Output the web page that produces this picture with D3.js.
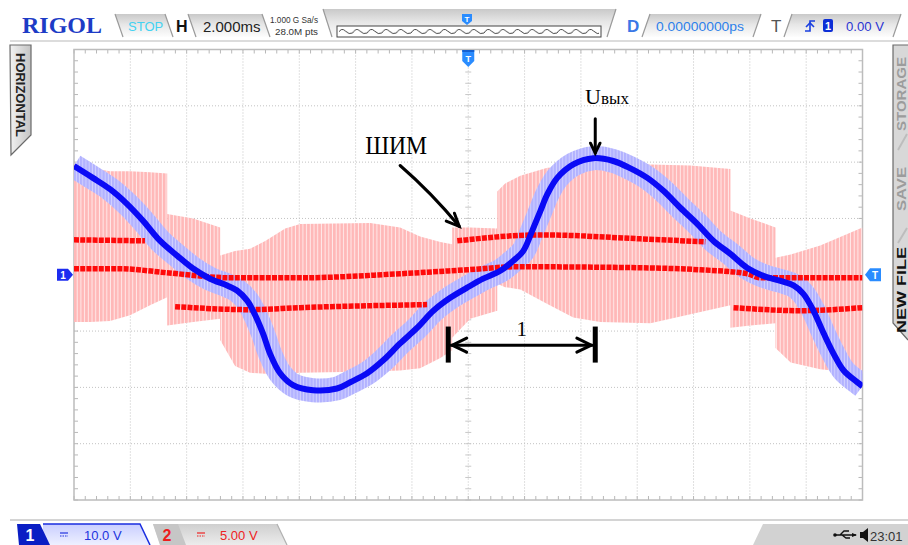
<!DOCTYPE html>
<html><head><meta charset="utf-8">
<script src="https://cdn.jsdelivr.net/npm/d3@7"></script>
<style>
html,body{margin:0;padding:0;background:#fff;overflow:hidden}
svg{display:block}
</style></head><body>
<svg id="c" width="908" height="545" font-family="'Liberation Sans',Arial,sans-serif"></svg>
<script>
// ---------------- DATA ----------------
// Channel 1 (blue) output voltage Uвых : time (ms) / volts (10 V/div)
const ch1Time = [-14.00,-13.33,-12.72,-12.12,-11.55,-10.94,-10.34,-9.77,-9.17,-8.56,-8.21,-7.85,-7.64,-7.29,-7.04,-6.68,-6.22,-5.51,-4.66,-4.19,-3.59,-3.02,-2.42,-1.81,-1.24,-0.64,-0.04,0.53,1.14,1.60,1.95,2.27,2.56,2.81,3.16,3.73,4.44,5.15,5.76,6.36,6.93,7.53,8.14,8.71,9.31,9.91,10.48,11.09,11.55,11.90,12.26,12.62,12.97,13.33,13.82,14.00];
const ch1Volt = [19.3,17.2,15.2,12.6,9.6,6.0,3.4,1.1,-0.7,-1.9,-2.8,-4.6,-6.4,-10.4,-14.0,-17.5,-19.6,-20.5,-20.2,-19.1,-17.5,-15.2,-12.2,-9.4,-6.4,-4.1,-2.3,-0.7,0.7,2.5,4.2,7.8,11.3,14.3,17.2,19.6,20.7,20.2,18.9,17.2,14.9,11.9,9.0,6.0,3.7,1.2,-0.2,-1.1,-1.9,-3.4,-6.4,-10.4,-14.0,-17.0,-19.1,-19.8];

// Channel 2 (red) PWM levels : time (ms) / volts (5 V/div)
const ch2MidTime = [-14,-12.37,-10.70,-8.46,-5.97,-2.42,-0.04,1.74,6.11,8.24,9.91,10.38,14];
const ch2MidVolt = [0.53,0.53,0.18,-0.27,-0.27,0.09,0.44,0.71,0.62,0.44,0.09,-0.27,-0.27];
const ch2UpATime = [-14,-11.48];           const ch2UpAVolt = [3.10,3.01];
const ch2UpBTime = [-0.39,2.56,6.11,8.42]; const ch2UpBVolt = [3.01,3.54,3.19,2.92];
const ch2LoATime = [-10.41,-7.75,-5.97,-1.46]; const ch2LoAVolt = [-2.83,-3.10,-2.92,-2.65];
const ch2LoBTime = [9.42,11.80,14];        const ch2LoBVolt = [-2.92,-3.19,-2.92];

// PWM switching envelope segments: [time ms, top V, bottom V]
const pwmA = [[-14.00,9.8,-4.2],[-13.43,9.5,-4.2],[-12.72,9.2,-4.1],[-12.01,9.2,-3.6],[-11.30,9.1,-2.7],[-10.69,9.0,-2.0]];
const pwmB = [[-10.69,5.4,-4.5],[-9.77,5.0,-4.2],[-8.81,4.2,-3.9]];
const pwmC = [[-8.81,1.7,-5.8],[-8.28,2.1,-8.1],[-7.75,2.3,-8.7],[-7.21,3.0,-8.8],[-6.50,4.1,-8.8],[-5.97,4.5,-8.7],[-3.48,4.6,-8.6],[-2.42,4.2,-8.5],[-1.71,3.4,-8.3],[-0.99,2.9,-7.4],[-0.57,2.7,-6.7]];
const pwmD = [[-0.57,4.2,-5.6],[0.07,4.2,-3.9],[1.03,4.1,-3.2]];
const pwmE = [[1.03,7.4,-0.8],[1.31,8.1,-1.1],[1.85,8.8,-1.3],[2.81,9.5,-2.6],[3.73,9.6,-3.8],[4.69,9.6,-4.2],[6.47,9.8,-4.3],[7.89,9.7,-3.5],[9.31,9.4,-2.7]];
const pwmF = [[9.31,5.7,-4.7],[10.02,5.0,-4.5],[10.91,4.2,-4.3]];
const pwmG = [[10.91,1.5,-6.5],[11.45,1.8,-7.8],[12.50,2.6,-8.4],[14.00,4.2,-8.8]];

// Axes / grid
const timeDomain = [-14, 14];      // 2 ms/div, 14 div
const ch1Domain = [-40, 40];       // 10 V/div, 8 div
const ch2Domain = [-20, 20];       // 5 V/div
const timeGrid = [-12,-10,-8,-6,-4,-2,0,2,4,6,8,10,12];
const voltGrid = [-30,-20,-10,0,10,20,30];

// Texts
const headerTexts = {brand:"RIGOL", run:"STOP", h:"H", timebase:"2.000ms", rate:"1.000 G Sa/s", depth:"28.0M pts", d:"D", delay:"0.00000000ps", t:"T", trig:"0.00 V"};
const footerTexts = {ch1:"1", ch1Scale:"10.0 V", ch2:"2", ch2Scale:"5.00 V", clock:"23:01"};
const sideLeft = ["HORIZONTAL"];
const sideRight = ["STORAGE","SAVE","NEW FILE"];
// Annotations (time ms, ch1 volts)
const annPWM = {label:"ШИМ", t:-3.66, v:21.5, from:[-2.42,19.4], to:[-0.32,8.6]};
const annOut = {main:"U", sub:"вых", t:4.15, v:30.4, from:[4.51,27.7], to:[4.51,21.6]};
const annPeriod = {label:"1", t0:-0.71, t1:4.51, v:-12.5, vTop:-9.2, vBot:-15.6, labelT:1.9, labelV:-10.9};

// ---------------- DRAW ----------------
const svg = d3.select("#c");
const P = {l:74, r:862.5, t:49.5, b:500};
const x = d3.scaleLinear().domain(timeDomain).range([P.l, P.r]);
const y1 = d3.scaleLinear().domain(ch1Domain).range([P.b, P.t]);
const y2 = d3.scaleLinear().domain(ch2Domain).range([P.b, P.t]);
const serif = "'Liberation Serif','Times New Roman',serif";

const defs = svg.append("defs");
defs.append("clipPath").attr("id","plotClip").append("rect")
  .attr("x",P.l).attr("y",P.t).attr("width",P.r-P.l).attr("height",P.b-P.t);
const pp = defs.append("pattern").attr("id","pwmStripe").attr("patternUnits","userSpaceOnUse").attr("width",3.7).attr("height",8);
pp.append("rect").attr("width",3.7).attr("height",8).attr("fill","#ffe9e9");
pp.append("rect").attr("width",2.7).attr("height",8).attr("fill","#ffb8b8");
const bp = defs.append("pattern").attr("id","blueStripe").attr("patternUnits","userSpaceOnUse").attr("width",3.2).attr("height",8);
bp.append("rect").attr("width",3.2).attr("height",8).attr("fill","#d2d2ff");
bp.append("rect").attr("width",2.3).attr("height",8).attr("fill","#b2b2ff");
function grad(id, stops){
  const g = defs.append("linearGradient").attr("id",id).attr("x1",0).attr("y1",0).attr("x2",0).attr("y2",1);
  stops.forEach(s=>g.append("stop").attr("offset",s[0]).attr("stop-color",s[1]));
}
grad("tabGrad",[[0,"#c9c9c9"],[0.45,"#e6e6e6"],[1,"#fdfdfd"]]);
grad("ch1Grad",[[0,"#c9ceff"],[1,"#eef0ff"]]);
grad("ch2Grad",[[0,"#cfcfcf"],[1,"#ececec"]]);
const hg = defs.append("linearGradient").attr("id","sideGrad").attr("x1",0).attr("y1",0).attr("x2",1).attr("y2",0);
hg.append("stop").attr("offset",0).attr("stop-color","#f2f2f2");
hg.append("stop").attr("offset",1).attr("stop-color","#c4c4c4");

// ---- grid ----
const grid = svg.append("g");
grid.selectAll(".vg").data(timeGrid).join("line")
  .attr("x1",d=>x(d)).attr("x2",d=>x(d)).attr("y1",P.t).attr("y2",P.b)
  .attr("stroke","#c2c2c2").attr("stroke-width",1).attr("stroke-dasharray","1,2");
grid.selectAll(".hg").data(voltGrid).join("line")
  .attr("y1",d=>y1(d)).attr("y2",d=>y1(d)).attr("x1",P.l).attr("x2",P.r)
  .attr("stroke","#c2c2c2").attr("stroke-width",1).attr("stroke-dasharray","1,2");
const minorT = d3.range(-14, 14.001, 0.4);
const minorV = d3.range(-40, 40.001, 2);
grid.selectAll(".mt").data(minorT).join("line")
  .attr("x1",d=>x(d)).attr("x2",d=>x(d)).attr("y1",P.t).attr("y2",P.t+4).attr("stroke","#b8b8b8");
grid.selectAll(".mb").data(minorT).join("line")
  .attr("x1",d=>x(d)).attr("x2",d=>x(d)).attr("y1",P.b-4).attr("y2",P.b).attr("stroke","#b8b8b8");
grid.selectAll(".mc").data(minorT).join("line")
  .attr("x1",d=>x(d)).attr("x2",d=>x(d)).attr("y1",y1(0)-3).attr("y2",y1(0)+3).attr("stroke","#c8c8c8");
grid.selectAll(".ml").data(minorV).join("line")
  .attr("y1",d=>y1(d)).attr("y2",d=>y1(d)).attr("x1",P.l).attr("x2",P.l+4).attr("stroke","#b8b8b8");
grid.selectAll(".mr").data(minorV).join("line")
  .attr("y1",d=>y1(d)).attr("y2",d=>y1(d)).attr("x1",P.r-4).attr("x2",P.r).attr("stroke","#b8b8b8");
grid.selectAll(".mv").data(minorV).join("line")
  .attr("y1",d=>y1(d)).attr("y2",d=>y1(d)).attr("x1",x(0)-3).attr("x2",x(0)+3).attr("stroke","#c8c8c8");
grid.append("rect").attr("x",P.l).attr("y",P.t).attr("width",P.r-P.l).attr("height",P.b-P.t)
  .attr("fill","none").attr("stroke","#bcbcbc").attr("stroke-width",1.5);

// ---- traces ----
const traces = svg.append("g").attr("clip-path","url(#plotClip)");
const area = d3.area().x(d=>x(d[0])).y0(d=>y2(d[2])).y1(d=>y2(d[1]));
[pwmA,pwmB,pwmC,pwmD,pwmE,pwmF,pwmG].forEach(seg=>{
  traces.append("path").datum(seg).attr("d",area).attr("fill","url(#pwmStripe)");
});
const ch1 = ch1Time.map((t,i)=>[t,ch1Volt[i]]);
const line1 = d3.line().x(d=>x(d[0])).y(d=>y1(d[1])).curve(d3.curveCatmullRom.alpha(0.5));
traces.append("path").datum(ch1).attr("d",line1).attr("fill","none")
  .attr("stroke","url(#blueStripe)").attr("stroke-width",24).attr("stroke-linejoin","round");
const line2 = d3.line().x(d=>x(d[0])).y(d=>y2(d[1])).curve(d3.curveMonotoneX);
[[ch2MidTime,ch2MidVolt],[ch2UpATime,ch2UpAVolt],[ch2UpBTime,ch2UpBVolt],[ch2LoATime,ch2LoAVolt],[ch2LoBTime,ch2LoBVolt]]
 .forEach(([ts,vs])=>{
  traces.append("path").datum(ts.map((t,i)=>[t,vs[i]])).attr("d",line2)
   .attr("fill","none").attr("stroke","#ff0a0a").attr("stroke-width",5.5).attr("stroke-dasharray","5,1.2");
 });
traces.append("path").datum(ch1).attr("d",line1).attr("fill","none")
  .attr("stroke","#0a0af5").attr("stroke-width",6).attr("stroke-linejoin","round");

// ---- annotations ----
const ann = svg.append("g").attr("stroke","#000").attr("fill","none").attr("stroke-linecap","round");
function head(xp,yp,ang,len,spr){
  const a1 = ang+Math.PI-spr, a2 = ang+Math.PI+spr;
  ann.append("path").attr("d",`M${xp+len*Math.cos(a1)},${yp+len*Math.sin(a1)} L${xp},${yp} L${xp+len*Math.cos(a2)},${yp+len*Math.sin(a2)}`)
   .attr("stroke-width",3).attr("stroke-linejoin","miter");
}
{
  const x0=x(annPWM.from[0]), yA=y1(annPWM.from[1]), x1=x(annPWM.to[0]), yB=y1(annPWM.to[1]);
  ann.append("path").attr("d",`M${x0},${yA} Q${(x0+x1)/2+2},${(yA+yB)/2-3} ${x1},${yB}`).attr("stroke-width",3);
  head(x1,yB,Math.atan2(yB-yA,x1-x0),14,0.42);
}
{
  const xa=x(annOut.from[0]), yA=y1(annOut.from[1]), yB=y1(annOut.to[1]);
  ann.append("line").attr("x1",xa).attr("x2",xa).attr("y1",yA).attr("y2",yB).attr("stroke-width",3);
  head(xa,yB,Math.PI/2,11,0.45);
}
{
  const xa=x(annPeriod.t0), xb=x(annPeriod.t1), ym=y1(annPeriod.v);
  [xa,xb].forEach(xx=>ann.append("line").attr("x1",xx).attr("x2",xx)
     .attr("y1",y1(annPeriod.vTop)).attr("y2",y1(annPeriod.vBot)).attr("stroke-width",5).attr("stroke-linecap","butt"));
  ann.append("line").attr("x1",xa+3).attr("x2",xb-3).attr("y1",ym).attr("y2",ym).attr("stroke-width",3);
  head(xa+4,ym,Math.PI,16,0.45);
  head(xb-4,ym,0,16,0.45);
}
svg.append("text").attr("x",x(annPWM.t)).attr("y",y1(annPWM.v)).text(annPWM.label)
  .style("font-family",serif).attr("font-size",25).attr("fill","#000").attr("textLength",62).attr("lengthAdjust","spacingAndGlyphs");
const ut = svg.append("text").attr("x",x(annOut.t)).attr("y",y1(annOut.v)).style("font-family",serif).attr("fill","#000");
ut.append("tspan").attr("font-size",22).text(annOut.main);
ut.append("tspan").attr("font-size",17).text(annOut.sub);
svg.append("text").attr("x",x(annPeriod.labelT)).attr("y",y1(annPeriod.labelV)).attr("text-anchor","middle")
  .style("font-family",serif).attr("font-size",21).attr("fill","#000").text(annPeriod.label);

// ---- markers ----
const yc = y1(0);
svg.append("path").attr("d",`M57,${yc-6} L68,${yc-6} L73,${yc} L68,${yc+6} L57,${yc+6} Z`).attr("fill","#1c2cf0");
svg.append("text").attr("x",63).attr("y",yc+4).attr("text-anchor","middle").attr("font-size",10).attr("font-weight","bold").attr("fill","#fff").text("1");
svg.append("path").attr("d",`M865,${yc} L870,${yc-6.5} L881,${yc-6.5} L881,${yc+6.5} L870,${yc+6.5} Z`).attr("fill","#2a8cff");
svg.append("text").attr("x",875).attr("y",yc+4).attr("text-anchor","middle").attr("font-size",10).attr("font-weight","bold").attr("fill","#fff").text("T");
const xc = x(0);
svg.append("path").attr("d",`M${xc-6},50 L${xc+6},50 L${xc+6},61 L${xc},67 L${xc-6},61 Z`).attr("fill","#2a8cff");
svg.append("rect").attr("x",xc-6).attr("y",50).attr("width",12).attr("height",2).attr("fill","#1560d0");
svg.append("text").attr("x",xc).attr("y",62).attr("text-anchor","middle").attr("font-size",9).attr("font-weight","bold").attr("fill","#fff").text("T");

// ---- header ----
svg.append("line").attr("x1",10).attr("x2",908).attr("y1",41).attr("y2",41).attr("stroke","#dcdcdc").attr("stroke-width",2);
svg.append("text").attr("x",22).attr("y",33).text(headerTexts.brand).style("font-family",serif)
  .attr("font-weight","bold").attr("font-size",23).attr("fill","#1d3cc6").attr("textLength",80).attr("lengthAdjust","spacingAndGlyphs");
function tab(pts, slantStroke){
  svg.append("path").attr("d","M"+pts.map(p=>p.join(",")).join(" L")+" Z").attr("fill","url(#tabGrad)");
  if(slantStroke) slantStroke.forEach(s=>svg.append("line").attr("x1",s[0]).attr("y1",s[1]).attr("x2",s[2]).attr("y2",s[3]).attr("stroke","#9a9a9a").attr("stroke-width",1.2));
}
tab([[115,14],[165,14],[173,37],[123,37]],[[115,14,123,37],[165,14,173,37]]);
svg.append("text").attr("x",128).attr("y",31).attr("font-size",13).attr("fill","#42d2f2").text(headerTexts.run);
svg.append("text").attr("x",176).attr("y",32).attr("font-size",16).attr("font-weight","bold").attr("fill","#111").text(headerTexts.h);
tab([[188,14],[262,14],[270,37],[196,37]],[[188,14,196,37],[262,14,270,37]]);
svg.append("text").attr("x",203).attr("y",32).attr("font-size",15).attr("fill","#222").text(headerTexts.timebase);
svg.append("text").attr("x",270).attr("y",23).attr("font-size",9.5).attr("fill","#333").attr("textLength",48).attr("lengthAdjust","spacingAndGlyphs").text(headerTexts.rate);
svg.append("text").attr("x",275).attr("y",35).attr("font-size",9.5).attr("fill","#333").attr("textLength",43).attr("lengthAdjust","spacingAndGlyphs").text(headerTexts.depth);
tab([[323,9],[616,9],[607,37],[332,37]],[[323,9,332,37],[616,9,607,37]]);
svg.append("rect").attr("x",337).attr("y",26).attr("width",264).attr("height",11).attr("fill","#fff").attr("stroke","#444").attr("stroke-width",1);
const wp = defs.append("pattern").attr("id","wavePat").attr("patternUnits","userSpaceOnUse").attr("width",14.6).attr("height",11).attr("x",338).attr("y",26);
wp.append("path").attr("d","M0,7 Q3.6,1 7.3,5 Q11,9 14.6,7").attr("fill","none").attr("stroke","#333").attr("stroke-width",0.9);
svg.append("rect").attr("x",339).attr("y",26).attr("width",260).attr("height",10).attr("fill","url(#wavePat)");
svg.append("path").attr("d","M462,14 L472,14 L472,21 L467,25 L462,21 Z").attr("fill","#2a8cff");
svg.append("text").attr("x",467).attr("y",21.5).attr("text-anchor","middle").attr("font-size",8).attr("font-weight","bold").attr("fill","#fff").text("T");
svg.append("text").attr("x",627).attr("y",32).attr("font-size",17).attr("font-weight","bold").attr("fill","#3a78e6").text(headerTexts.d);
tab([[650,14],[761,14],[753,37],[642,37]],[[650,14,642,37],[761,14,753,37]]);
svg.append("text").attr("x",656).attr("y",31).attr("font-size",13).attr("fill","#2d80ea").attr("textLength",88).attr("lengthAdjust","spacingAndGlyphs").text(headerTexts.delay);
svg.append("text").attr("x",771).attr("y",32).attr("font-size",17).attr("fill","#555").text(headerTexts.t);
tab([[792,14],[901,14],[893,37],[784,37]],[[792,14,784,37],[901,14,893,37]]);
svg.append("path").attr("d","M805,31 L810,31 L810,21 L815,21").attr("fill","none").attr("stroke","#1a3fe0").attr("stroke-width",1.6);
svg.append("path").attr("d","M806,27 L810,23 L814,27").attr("fill","none").attr("stroke","#1a3fe0").attr("stroke-width",1.6);
svg.append("rect").attr("x",823).attr("y",19).attr("width",10).attr("height",13).attr("rx",2).attr("fill","#0d2ed6");
svg.append("text").attr("x",828).attr("y",30).attr("text-anchor","middle").attr("font-size",11).attr("font-weight","bold").attr("fill","#fff").text("1");
svg.append("text").attr("x",846).attr("y",31).attr("font-size",13).attr("fill","#2a34d2").attr("textLength",38).attr("lengthAdjust","spacingAndGlyphs").text(headerTexts.trig);

// ---- side tabs ----
svg.append("path").attr("d","M10,45 H31 V135 L11,155 Z").attr("fill","url(#sideGrad)").attr("stroke","#6a6a6a").attr("stroke-width",1.2);
svg.append("text").attr("transform","translate(16,95) rotate(90)").attr("text-anchor","middle")
  .attr("font-size",12).attr("font-weight","bold").attr("fill","#222").attr("textLength",84).attr("lengthAdjust","spacingAndGlyphs").text(sideLeft[0]);
svg.append("path").attr("d","M908,45 H893 V323 L908,340").attr("fill","#d8d8d8").attr("stroke","#6a6a6a").attr("stroke-width",1.2);
const rightPos = [[94,74,"#9c9c9c"],[189,44,"#9c9c9c"],[290,86,"#111"]];
sideRight.forEach((s,i)=>{
  svg.append("text").attr("transform",`translate(906,${rightPos[i][0]}) rotate(-90)`).attr("text-anchor","middle")
   .attr("font-size",12).attr("font-weight","bold").attr("fill",rightPos[i][2]).attr("textLength",rightPos[i][1]).attr("lengthAdjust","spacingAndGlyphs").text(s);
});
[[898,150,907,134],[898,243,907,228]].forEach(l=>svg.append("line").attr("x1",l[0]).attr("y1",l[1]).attr("x2",l[2]).attr("y2",l[3]).attr("stroke","#bdbdbd").attr("stroke-width",2));

// ---- footer ----
svg.append("line").attr("x1",10).attr("x2",908).attr("y1",520).attr("y2",520).attr("stroke","#d4d4d4").attr("stroke-width",2);
svg.append("path").attr("d","M43,545 L43,524 L140,524 L150,545 Z").attr("fill","url(#ch1Grad)");
svg.append("path").attr("d","M43,524 L140,524 L150,545").attr("fill","none").attr("stroke","#1a2ee0").attr("stroke-width",1.5);
svg.append("path").attr("d","M17,524 L40,524 L50,545 L19,545 Z").attr("fill","#0a1ec4");
svg.append("text").attr("x",30).attr("y",541).attr("text-anchor","middle").attr("font-size",16).attr("font-weight","bold").attr("fill","#fff").text(footerTexts.ch1);
svg.append("line").attr("x1",60).attr("x2",68).attr("y1",533).attr("y2",533).attr("stroke","#2233dd").attr("stroke-width",1.2);
svg.append("line").attr("x1",60).attr("x2",68).attr("y1",536).attr("y2",536).attr("stroke","#2233dd").attr("stroke-width",1.2).attr("stroke-dasharray","1.5,1");
svg.append("text").attr("x",84).attr("y",540).attr("font-size",13).attr("fill","#2233dd").text(footerTexts.ch1Scale);
svg.append("path").attr("d","M153,524 L277,524 L287,545 L160,545 Z").attr("fill","url(#ch2Grad)");
svg.append("path").attr("d","M153,524 L178,524 L186,545 L160,545 Z").attr("fill","#c6c6c6");
svg.append("path").attr("d","M277,524 L287,545").attr("stroke","#b0b0b0").attr("stroke-width",1.2);
svg.append("text").attr("x",167).attr("y",541).attr("text-anchor","middle").attr("font-size",16).attr("font-weight","bold").attr("fill","#ee1c1c").text(footerTexts.ch2);
svg.append("line").attr("x1",197).attr("x2",205).attr("y1",533).attr("y2",533).attr("stroke","#ee2222").attr("stroke-width",1.2);
svg.append("line").attr("x1",197).attr("x2",205).attr("y1",536).attr("y2",536).attr("stroke","#ee2222").attr("stroke-width",1.2).attr("stroke-dasharray","1.5,1");
svg.append("text").attr("x",220).attr("y",540).attr("font-size",13).attr("fill","#ee2222").text(footerTexts.ch2Scale);
svg.append("path").attr("d","M763,524 L908,524 L908,545 L753,545 Z").attr("fill","#d2d2d2");
svg.append("circle").attr("cx",835).attr("cy",535).attr("r",1.8).attr("fill","#111");
svg.append("path").attr("d","M835,535 H856 M840,535 L844,531 H849 M842,535 L846,538 H850").attr("fill","none").attr("stroke","#111").attr("stroke-width",1.3);
svg.append("path").attr("d","M852,533 L857,535 L852,537 Z").attr("fill","#111");
svg.append("path").attr("d","M860,532 H863 L868,528 V542 L863,538 H860 Z").attr("fill","#111");
svg.append("text").attr("x",870).attr("y",541).attr("font-size",13).attr("fill","#333").text(footerTexts.clock);
</script></body></html>
